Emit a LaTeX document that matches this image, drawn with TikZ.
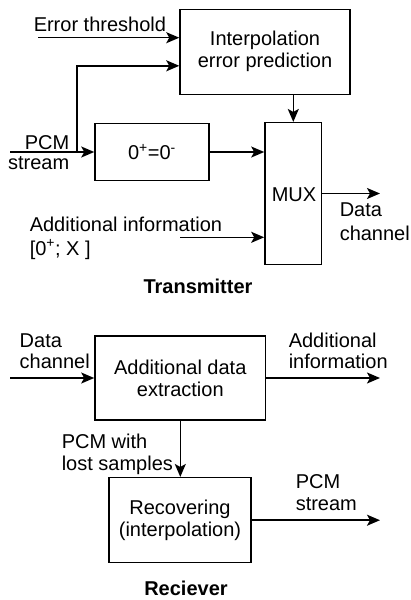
\documentclass[tikz,border=0pt]{standalone}
\usepackage{fontspec}
\setmainfont{Liberation Sans}
\usetikzlibrary{arrows.meta, positioning, calc}

\begin{document}
\begin{tikzpicture}[x=1pt, y=-1pt, line width=1.5pt,
  font=\fontsize{20}{22}\selectfont,
  >={Stealth[length=13pt, width=11pt, inset=3pt]},
  block/.style={draw, align=center, inner sep=0pt},
  lbl/.style={align=left, inner sep=0pt, anchor=base west},
  caption/.style={font=\fontsize{20}{22}\selectfont\bfseries, inner sep=0pt}]
  \useasboundingbox (0,0) rectangle (411,600);

  % Transmitter blocks
  \node[block, minimum width=170pt, minimum height=85pt] (interp) at (265,51.8)
    {Interpolation\\error prediction};
  \node[block, minimum width=114pt, minimum height=57pt] (zero) at (152,152)
    {0\textsuperscript{+}=0\textsuperscript{-}};
  \node[block, minimum width=56.7pt, minimum height=141.6pt] (mux) at (293.3,193.5) {};
  \node[inner sep=0pt, anchor=base] (muxtxt) at (294,201.7) {MUX};

  % Transmitter inputs and outputs
  \coordinate (thr) at (38,37.7);
  \coordinate (pcmin) at (10,152);
  \coordinate (split) at (77,152);
  \coordinate (addin) at (180,237.3);
  \coordinate (txout) at (380,194);

  \draw[->] (thr) -- (thr -| interp.west);
  \draw[->] (pcmin) -- (zero.west);
  \draw[->] (split) |- ($(interp.west)+(0,14)$);
  \draw[->] (mux.north |- interp.south) -- (mux.north);
  \draw[->] (zero.east) -- (zero.east -| mux.west);
  \draw[->] (addin) -- (addin -| mux.west);
  \draw[->] (mux.east) -- (mux.east -| txout);

  % Transmitter labels (base = last line)
  \node[lbl] (thrlbl) at (33,31) {Error threshold};
  \node[inner sep=0pt, anchor=base east, align=right] (pcmlbl) at (70,169.5)
    {PCM\\[-1.5pt]stream};
  \node[lbl] (addlbl) at (29,255) {Additional information\\[1.5pt][0\textsuperscript{+}; X ]};
  \node[lbl] (txoutlbl) at (339,240.7) {Data\\[2pt]channel};
  \node[caption] (txcap) at (198,286) {Transmitter};

  % Receiver blocks
  \node[block, minimum width=170.7pt, minimum height=84pt] (extract) at (180.3,378)
    {Additional data\\extraction};
  \node[block, minimum width=142pt, minimum height=85pt] (recover) at (180,520.2)
    {Recovering\\(interpolation)};

  % Receiver inputs and outputs
  \coordinate (rxin) at (10,378);
  \coordinate (rxout) at (380,378);
  \coordinate (pcmout) at (380,520.2);

  \draw[->] (rxin) -- (extract.west);
  \draw[->] (extract.east) -- (rxout);
  \draw[->] (extract.south) -- (extract.south |- recover.north);
  \draw[->] (recover.east) -- (pcmout);

  % Receiver labels
  \node[lbl] (rxinlbl) at (19,368) {Data\\[-1pt]channel};
  \node[lbl] (rxoutlbl) at (288,368) {Additional\\[-1pt]information};
  \node[lbl] (lostlbl) at (61,470) {PCM with\\lost samples};
  \node[lbl] (pcmoutlbl) at (295,510) {PCM\\stream};
  \node[caption] (rxcap) at (186,588) {Reciever};
\end{tikzpicture}
\end{document}
